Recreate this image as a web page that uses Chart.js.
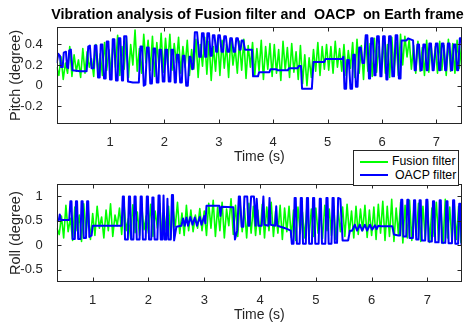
<!DOCTYPE html>
<html>
<head>
<meta charset="utf-8">
<script src="https://cdn.jsdelivr.net/npm/chart.js@4.4.1/dist/chart.umd.min.js"></script>
<style>
  body { margin: 0; background: #fff; }
  #wrap { position: relative; width: 465px; height: 324px; overflow: hidden; font-family: "Liberation Sans", Arial, sans-serif; }
  canvas { position: absolute; left: 0; }
  #title { position: absolute; left: 50px; width: 415px; top: 6px; text-align: center; font-weight: bold; font-size: 14.3px; line-height: 16px; white-space: pre; color: #000; }
  #legend { position: absolute; left: 353px; top: 150px; width: 104px; height: 34px; border: 1px solid #262626; background: #fff; z-index: 5; font-size: 12.3px; color: #000; }
  #legend .sw { position: absolute; left: 6px; width: 28px; height: 2px; }
  #legend .lb { position: absolute; line-height: 14px; white-space: nowrap; }
</style>
</head>
<body>
<div id="wrap">
  <canvas id="pitchChart" width="465" height="168" style="top:0"></canvas>
  <canvas id="rollChart" width="465" height="164" style="top:160px"></canvas>
  <div id="title">Vibration analysis of Fusion filter and  OACP  on Earth frame</div>
  <div id="legend">
    <div class="sw" style="top:10px;background:#00ff00"></div>
    <div class="lb" style="left:38px;top:3px">Fusion filter</div>
    <div class="sw" style="top:23px;background:#0000ff"></div>
    <div class="lb" style="left:41px;top:17px">OACP filter</div>
  </div>
</div>
<script>
// ---- pitch subplot ----
var pitchXTicks = [1, 2, 3, 4, 5, 6, 7];
var pitchYTicks = [-0.2, 0, 0.2, 0.4];
var pitchFusionStart = 0.02, pitchFusionStep = 0.04;
var pitchFusion = [
  0.18,0.10,0.28,0.06,0.22,0.12,0.38,0.09,0.30,0.14,0.25,0.08,0.36,0.12,0.33,0.18,0.26,0.09,0.40,0.13,0.31,0.10,0.42,0.15,0.35,
  0.12,0.45,0.18,0.49,0.10,0.38,0.16,0.47,0.08,0.40,0.20,0.54,0.14,0.36,0.12,0.50,0.22,0.44,0.15,0.48,0.09,0.42,0.18,0.51,0.13,
  0.46,0.20,0.50,0.15,0.41,0.22,0.47,0.12,0.38,0.18,0.44,0.10,0.35,0.16,0.45,0.08,0.40,0.19,0.47,0.11,0.43,0.05,0.38,0.14,0.46,
  0.10,0.44,0.17,0.40,0.08,0.46,0.20,0.37,0.12,0.43,0.15,0.45,0.07,0.39,0.18,0.42,0.10,0.36,0.14,0.44,0.06,0.38,0.16,0.41,0.09,
  0.40,0.12,0.35,0.05,0.43,0.15,0.37,0.08,0.41,0.13,0.33,0.06,0.39,0.02,0.30,0.00,0.27,0.08,0.35,0.14,0.42,0.10,0.38,0.16,0.40,
  0.15,0.38,0.12,0.43,0.18,0.36,0.14,0.40,0.10,0.34,0.17,0.42,0.08,0.45,0.12,0.39,0.06,0.47,0.14,0.41,0.09,0.46,0.13,0.38,0.10,
  0.44,0.12,0.40,0.08,0.47,0.15,0.42,0.10,0.50,0.20,0.48,0.28,0.45,0.16,0.39,0.12,0.43,0.14,0.37,0.10,0.44,0.13,0.40,0.16,0.38,
  0.12,0.43,0.15,0.39,0.10,0.45,0.14,0.41,0.12,0.44,0.17,0.38
];
var pitchOacpTime = [
  0.02,0.05,0.08,0.10,0.13,0.15,0.19,0.21,0.23,0.25,0.28,0.31,0.45,0.57,
  0.60,0.63,0.66,0.70,0.72,0.75,0.78,0.81,0.83,0.86,0.89,0.92,0.94,0.97,1.00,1.03,
  1.05,1.08,1.11,1.14,1.16,1.19,1.22,1.24,1.26,1.30,1.33,1.42,1.53,
  1.56,1.59,1.62,1.65,1.68,1.71,1.74,1.77,1.80,1.83,1.86,1.89,1.91,1.94,1.97,2.00,
  2.02,2.05,2.08,2.11,2.13,2.16,2.19,2.21,2.23,2.26,2.29,2.32,2.34,2.37,2.40,2.43,
  2.46,2.48,2.51,2.53,2.56,2.60,2.64,2.67,2.69,2.72,2.75,2.77,2.79,2.82,2.85,2.87,
  2.89,2.92,2.95,2.97,2.99,3.02,3.05,3.08,3.10,3.13,3.16,3.19,3.21,3.24,3.27,3.30,
  3.32,3.35,3.38,3.40,3.42,3.45,3.48,3.61,3.63,3.72,3.74,3.93,3.95,4.06,4.08,4.27,
  4.29,4.45,4.47,4.51,4.53,4.71,4.74,4.94,4.96,5.27,5.29,5.31,5.34,5.36,5.39,5.42,
  5.45,5.47,5.50,5.52,5.55,5.58,5.61,5.64,5.67,5.70,5.73,5.76,5.78,5.80,5.83,5.86,
  5.88,5.91,5.94,5.97,5.99,6.02,6.05,6.08,6.10,6.13,6.16,6.19,6.22,6.25,6.28,6.31,
  6.34,6.36,6.45,6.48,6.57,6.60,6.62,6.65,6.68,6.71,6.73,6.76,6.79,6.82,6.84,6.87,
  6.90,6.93,6.95,6.99,7.02,7.05,7.07,7.10,7.13,7.16,7.18,7.21,7.24,7.27,7.29,7.32,
  7.35,7.38,7.40,7.43,7.46,7.49
];
var pitchOacp = [
  0.22,0.31,0.29,0.18,0.18,0.32,0.33,0.18,0.17,0.34,0.35,0.15,0.14,0.14,
  0.38,0.39,0.17,0.17,0.39,0.39,0.08,0.08,0.40,0.40,0.07,0.07,0.43,0.43,0.06,0.06,
  0.45,0.45,0.05,0.05,0.46,0.46,0.05,0.05,0.48,0.48,0.04,0.03,0.03,
  0.38,0.38,0.00,0.01,0.37,0.37,0.02,0.02,0.36,0.36,0.03,0.03,0.35,0.35,0.04,0.04,
  0.35,0.35,0.04,0.04,0.35,0.35,0.03,0.03,0.30,0.30,0.03,0.03,0.29,0.29,0.00,0.00,
  0.28,0.28,0.16,0.17,0.52,0.52,0.28,0.28,0.51,0.51,0.28,0.28,0.51,0.51,0.29,0.29,
  0.49,0.49,0.33,0.33,0.49,0.49,0.33,0.33,0.48,0.48,0.33,0.33,0.46,0.46,0.33,0.33,
  0.46,0.46,0.35,0.35,0.44,0.44,0.35,0.35,0.09,0.09,0.13,0.13,0.16,0.16,0.15,0.15,
  0.17,0.17,0.19,0.19,-0.03,-0.03,0.23,0.23,0.26,0.26,0.28,-0.03,-0.03,0.25,0.25,-0.03,
  -0.03,0.30,0.30,-0.01,-0.01,0.37,0.37,0.22,0.22,0.49,0.49,0.07,0.07,0.46,0.46,0.10,
  0.10,0.48,0.48,0.09,0.09,0.48,0.48,0.06,0.06,0.48,0.48,0.09,0.09,0.49,0.49,0.07,
  0.07,0.44,0.44,0.46,0.44,0.15,0.15,0.40,0.40,0.15,0.15,0.40,0.40,0.15,0.15,0.41,
  0.41,0.15,0.15,0.41,0.41,0.15,0.15,0.41,0.41,0.15,0.15,0.41,0.41,0.15,0.15,0.40,
  0.40,0.15,0.15,0.46,0.46,0.16
];

// ---- roll subplot ----
var rollXTicks = [1, 2, 3, 4, 5, 6, 7];
var rollYTicks = [-0.5, 0, 0.5, 1];
var rollFusionStart = 0.36, rollFusionStep = 0.04;
var rollFusion = [
  0.35,0.22,0.60,0.15,0.82,0.28,0.55,0.10,0.78,0.30,0.62,0.08,0.85,0.25,0.70,0.12,
  0.65,0.20,0.80,0.35,0.58,0.15,0.72,0.30,0.85,0.18,0.62,0.40,0.76,0.22,0.88,0.30,0.55,0.14,0.83,0.26,0.68,0.20,0.79,0.32,0.60,
  0.25,0.84,0.18,0.70,0.35,0.86,0.22,0.64,0.30,0.80,0.15,0.74,0.38,0.88,0.24,0.66,0.20,0.82,0.30,0.72,0.28,0.62,0.35,0.75,0.30,
  0.70,0.20,0.86,0.35,0.92,0.18,0.78,0.30,0.88,0.15,0.74,0.40,0.95,0.22,0.82,0.18,0.90,0.28,0.76,0.15,0.86,0.25,0.80,0.20,0.72,
  0.22,0.84,0.15,0.78,0.30,0.88,0.18,0.70,0.25,0.82,0.12,0.76,0.28,0.80,0.16,0.72,0.10,0.78,0.24,0.68,0.15,0.80,0.20,0.74,0.18,
  0.76,0.25,0.70,0.14,0.82,0.30,0.74,0.20,0.80,0.12,0.72,0.28,0.78,0.18,0.84,0.25,0.70,0.15,0.80,0.22,0.74,0.30,0.82,0.16,0.72,
  0.20,0.78,0.12,0.84,0.25,0.90,0.10,0.80,0.18,0.94,0.08,0.76,0.22,0.88,0.05,0.82,0.15,0.92,0.10,0.78,0.20,0.86,0.08,0.80,0.14,
  0.90,0.06,0.76,0.18,0.88,0.10,0.82,0.04,0.94,0.15,0.78,0.08,0.86,0.12,0.80,0.05
];
var rollOacpTime = [
  0.355,0.39,0.41,0.43,0.58,0.60,0.62,0.64,0.68,0.70,0.72,0.74,0.78,0.80,0.82,0.84,
  0.88,0.90,0.92,0.94,0.98,1.00,1.52,1.54,1.56,1.58,1.63,1.65,1.67,1.69,1.73,1.75,
  1.77,1.79,1.84,1.86,1.88,1.90,1.95,1.97,1.99,2.01,2.05,2.07,2.09,2.11,2.16,2.18,
  2.20,2.22,2.25,2.27,2.29,2.32,2.34,2.36,2.40,2.42,2.44,2.46,2.50,2.59,2.62,2.65,
  2.68,2.71,2.75,2.79,2.83,2.87,2.92,2.95,3.00,3.02,3.04,3.27,3.29,3.31,3.52,3.55,
  3.59,3.62,3.64,3.67,3.70,3.72,3.77,3.79,3.81,3.84,3.89,3.92,3.94,3.97,4.03,4.06,
  4.08,4.15,4.17,4.19,4.27,4.29,4.31,4.45,4.55,4.57,4.60,4.62,4.64,4.66,4.71,4.73,
  4.75,4.77,4.82,4.84,4.86,4.88,4.93,4.95,4.97,4.99,5.05,5.07,5.09,5.11,5.17,5.19,
  5.21,5.23,5.28,5.30,5.32,5.34,5.38,5.40,5.44,5.48,5.58,5.61,5.65,5.70,5.74,5.79,
  5.83,5.88,5.92,5.97,6.01,6.06,6.09,6.12,6.17,6.37,6.40,6.48,6.51,6.53,6.55,6.57,
  6.62,6.64,6.66,6.68,6.74,6.76,6.78,6.80,6.84,6.86,6.88,6.90,6.96,6.98,7.00,7.02,
  7.08,7.10,7.12,7.14,7.20,7.22,7.24,7.26,7.32,7.34,7.36,7.38,7.44,7.46,7.48,7.50,
  7.55,7.57,7.59,7.61,7.62
];
var rollOacp = [
  0.50,0.50,0.63,0.52,0.52,0.90,0.90,0.13,0.13,0.90,0.90,0.13,0.13,0.90,0.90,0.15,
  0.15,0.90,0.90,0.17,0.20,0.40,0.40,1.00,1.00,0.12,0.12,1.00,1.00,0.12,0.12,1.00,
  1.00,0.12,0.12,1.00,1.00,0.12,0.12,1.00,1.00,0.12,0.12,0.98,0.98,0.12,0.12,1.02,
  1.02,0.12,0.12,1.02,0.12,0.12,0.95,0.12,0.12,1.03,1.03,0.10,0.38,0.40,0.55,0.40,
  0.57,0.40,0.58,0.42,0.57,0.40,0.58,0.42,0.60,0.45,0.81,0.81,0.60,0.79,0.78,0.12,
  0.30,1.00,1.00,0.38,0.38,1.00,1.00,0.40,0.40,1.00,1.00,0.40,0.95,0.40,0.40,1.00,
  0.42,0.40,0.97,0.42,0.40,0.80,0.40,0.35,0.30,0.03,0.03,0.97,0.97,0.03,0.03,0.97,
  0.97,0.03,0.03,0.97,0.97,0.03,0.03,0.97,0.97,0.03,0.03,0.95,0.95,0.03,0.03,0.97,
  0.97,0.03,0.03,0.97,0.97,0.05,0.05,0.97,0.95,0.10,0.10,0.30,0.30,0.42,0.30,0.42,
  0.30,0.42,0.30,0.42,0.32,0.41,0.33,0.40,0.39,0.39,0.22,0.20,0.20,0.93,0.93,0.18,
  0.18,0.93,0.93,0.15,0.15,0.92,0.92,0.12,0.12,0.92,0.92,0.10,0.10,0.93,0.93,0.08,
  0.08,0.90,0.90,0.06,0.06,0.92,0.92,0.05,0.05,0.90,0.90,0.04,0.04,0.92,0.92,0.03,
  0.03,0.85,0.85,0.02,0.02
];

var axisColor = '#262626';
Chart.defaults.font.family = '"Liberation Sans", Arial, sans-serif';
Chart.defaults.color = axisColor;

// MATLAB-style box with inward tick marks on all four sides
var boxPlugin = {
  id: 'matlabBox',
  afterDraw: function(chart) {
    var ctx = chart.ctx, a = chart.chartArea, x = chart.scales.x, y = chart.scales.y;
    var L = Math.round(a.left) + 0.5, R = Math.round(a.right) - 0.5;
    var T = Math.round(a.top) + 0.5, B = Math.round(a.bottom) - 0.5;
    ctx.save();
    ctx.strokeStyle = axisColor;
    ctx.lineWidth = 1;
    ctx.strokeRect(L, T, R - L, B - T);
    ctx.beginPath();
    x.ticks.forEach(function(t) {
      var px = Math.round(x.getPixelForValue(t.value)) + 0.5;
      ctx.moveTo(px, B); ctx.lineTo(px, B - 4);
      ctx.moveTo(px, T); ctx.lineTo(px, T + 4);
    });
    y.ticks.forEach(function(t) {
      var py = Math.round(y.getPixelForValue(t.value)) + 0.5;
      ctx.moveTo(L, py); ctx.lineTo(L + 4, py);
      ctx.moveTo(R, py); ctx.lineTo(R - 4, py);
    });
    ctx.stroke();
    ctx.restore();
  }
};

function toPoints(times, values) {
  return values.map(function(v, i) { return { x: times[i], y: v }; });
}
function stepPoints(start, step, values) {
  return values.map(function(v, i) { return { x: +(start + i * step).toFixed(2), y: v }; });
}

function makeChart(id, cfg) {
  return new Chart(document.getElementById(id), {
    type: 'line',
    data: {
      datasets: [
        { label: 'OACP filter', data: cfg.oacp, borderColor: '#0000ff', borderWidth: 2, order: 0 },
        { label: 'Fusion filter', data: cfg.fusion, borderColor: '#00ff00', borderWidth: 1.6, order: 1 }
      ]
    },
    options: {
      responsive: false,
      animation: false,
      events: [],
      layout: { padding: { top: cfg.padTop, right: 3, left: 0, bottom: 0 } },
      elements: { point: { radius: 0 }, line: { tension: 0, borderJoinStyle: 'round' } },
      plugins: { legend: { display: false }, tooltip: { enabled: false } },
      scales: {
        x: {
          type: 'linear', min: cfg.xMin, max: cfg.xMax,
          grid: { display: false }, border: { display: false },
          afterBuildTicks: function(s) { s.ticks = cfg.xTicks.map(function(v) { return { value: v }; }); },
          afterFit: function(s) { s.height = cfg.xAxisH; },
          ticks: { padding: 2, color: axisColor, font: { size: 13 }, callback: function(v) { return String(v); } },
          title: { display: true, text: 'Time (s)', color: axisColor, font: { size: 14 }, padding: { top: 0, bottom: cfg.xTitlePad } }
        },
        y: {
          type: 'linear', min: cfg.yMin, max: cfg.yMax,
          grid: { display: false }, border: { display: false },
          afterBuildTicks: function(s) { s.ticks = cfg.yTicks.map(function(v) { return { value: v }; }); },
          afterFit: function(s) { s.width = 56.7; },
          ticks: { padding: 6, color: axisColor, font: { size: 13 }, callback: function(v) { return String(v); } },
          title: { display: true, text: cfg.yTitle, color: axisColor, font: { size: 14.5 }, padding: { top: 7, bottom: 0 } }
        }
      }
    },
    plugins: [boxPlugin]
  });
}

makeChart('pitchChart', {
  oacp: toPoints(pitchOacpTime, pitchOacp),
  fusion: stepPoints(pitchFusionStart, pitchFusionStep, pitchFusion),
  xMin: 0.02, xMax: 7.47, yMin: -0.376, yMax: 0.573,
  xTicks: pitchXTicks, yTicks: pitchYTicks,
  yTitle: 'Pitch (degree)', padTop: 26.7, xAxisH: 43.7, xTitlePad: 2.6
});
makeChart('rollChart', {
  oacp: toPoints(rollOacpTime, rollOacp),
  fusion: stepPoints(rollFusionStart, rollFusionStep, rollFusion),
  xMin: 0.355, xMax: 7.62, yMin: -0.757, yMax: 1.254,
  xTicks: rollXTicks, yTicks: rollYTicks,
  yTitle: 'Roll (degree)', padTop: 24, xAxisH: 41.7, xTitlePad: 0
});
</script>
</body>
</html>
